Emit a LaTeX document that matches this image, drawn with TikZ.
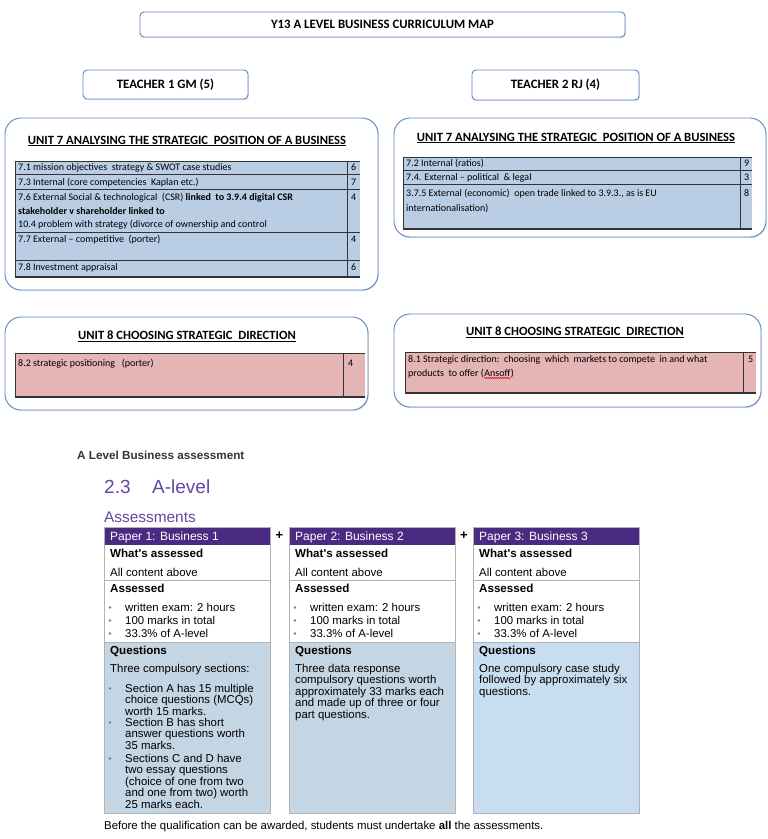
\documentclass[tikz,border=0pt]{standalone}
\usepackage{fontspec}
\setmainfont{Carlito}
\newfontfamily\arialf{Liberation Sans}
\usetikzlibrary{positioning}
\usetikzlibrary{shadows}
\usetikzlibrary{decorations.pathmorphing}
\definecolor{boxblue}{HTML}{5A87C5}
\definecolor{tabblue}{HTML}{B9CDE5}
\definecolor{tabpink}{HTML}{E5B4B4}
\definecolor{aqapurple}{HTML}{4B2A82}
\definecolor{headpurple}{HTML}{6447A0}
\definecolor{qgrey}{HTML}{C4D5E3}
\definecolor{qblue}{HTML}{C9DDF1}
\definecolor{dotblue}{HTML}{3D8DBD}

\begin{document}
\begin{tikzpicture} [x=1pt, y=-1pt,
    mapbox/.style = {draw=boxblue, line width=0.9pt, fill=white, rounded corners=4pt,
        drop shadow={shadow xshift=0.8pt, shadow yshift=-1.2pt, opacity=0.25}},
    unitbox/.style = {mapbox, rounded corners=16pt},
    boxtext/.style = {font=\fontsize{12.8}{14}\selectfont\bfseries},
    unittitle/.style = {font=\fontsize{12.6}{14}\selectfont\bfseries},
    cell/.style = {anchor=base west, inner sep=0pt, font=\fontsize{10}{11}\selectfont},
    cellline/.style = {draw=black!80, line width=0.6pt},
    txt/.style = {anchor=base west, inner sep=0pt, font=\arialf\fontsize{11.4}{12}\selectfont},
    txtb/.style = {txt, font=\arialf\fontsize{11.6}{12}\selectfont\bfseries},
    papertitle/.style = {anchor=base west, inner sep=0pt, text=white, font=\arialf\fontsize{12}{13}\selectfont},
    dot/.style = {circle, fill=dotblue, inner sep=0pt, minimum size=2.6pt},
    paperline/.style = {draw=black!30, line width=0.5pt}]
    \useasboundingbox (0,0) rectangle (768,839);

    %Kopf
    \node[mapbox, minimum width=485, minimum height=25] (title) at (382.5,24.5) {};
    \node[boxtext] (titletext) at (title.center) {Y13 A LEVEL BUSINESS CURRICULUM MAP};
    \node[mapbox, minimum width=165, minimum height=29] (t1) at (165.5,84.5) {};
    \node[boxtext] (t1text) at (t1.center) {TEACHER 1 GM (5)};
    \node[mapbox, minimum width=167, minimum height=30] (t2) at (555.5,85) {};
    \node[boxtext] (t2text) at (t2.center) {TEACHER 2 RJ (4)};

    %Unit 7 links
    \node[unitbox, minimum width=373, minimum height=172] (u7a) at (191.5,204) {};
    \node[unittitle] (u7atitle) at (187,141) {\underline{UNIT 7 ANALYSING THE STRATEGIC\ \ POSITION OF A BUSINESS}};
    \fill[tabblue] (15,161) rectangle (360,277);
    \foreach \y in {161,174,189,232,260}
        \draw[cellline] (15,\y) -- (360,\y);
    \draw[cellline, line width=1.2pt] (15,277) -- (360,277);
    \draw[cellline] (15,161) -- (15,277);
    \draw[cellline] (347,161) -- (347,277);
    \node[cell] (a71) at (18,170) {7.1 mission\ objectives\ \ strategy \& SWOT case studies};
    \node[cell] (a73) at (18,185) {7.3 Internal (core competencies\ \ Kaplan etc.)};
    \node[cell] (a76) at (18,200) {7.6 External\ Social \& technological\ \ (CSR) \textbf{linked\ \ to 3.9.4 digital CSR}};
    \node[cell] (a76b) at (18,214) {\textbf{stakeholder\ v shareholder\ linked to}};
    \node[cell] (a76c) at (18,227.5) {10.4 problem\ with strategy (divorce of ownership and control};
    \node[cell] (a77) at (18,242.5) {7.7 External -- competitive\ \ (porter)};
    \node[cell] (a78) at (18,270) {7.8 Investment appraisal};
    \foreach \y/\n [count=\i] in {170/6,185/7,200/4,242.5/4,270/6}
        \node[cell] (an\i) at (351,\y) {\n};

    %Unit 7 rechts
    \node[unitbox, minimum width=372, minimum height=119] (u7b) at (580,177.5) {};
    \node[unittitle] (u7btitle) at (576,138) {\underline{UNIT 7 ANALYSING THE STRATEGIC\ \ POSITION OF A BUSINESS}};
    \fill[tabblue] (403,157) rectangle (752,229);
    \foreach \y in {157,170,184}
        \draw[cellline] (403,\y) -- (752,\y);
    \draw[cellline, line width=1.2pt] (403,229) -- (752,229);
    \draw[cellline] (403,157) -- (403,229);
    \draw[cellline] (740,157) -- (740,229);
    \node[cell] (b72) at (406,166.5) {7.2 Internal (ratios)};
    \node[cell] (b74) at (406,180.5) {7.4. External -- political\ \ \& legal};
    \node[cell] (b375) at (406,196.5) {3.7.5 External (economic)\ \ open\ trade\ linked to 3.9.3., as is EU};
    \node[cell] (b375b) at (406,211) {internationalisation)};
    \foreach \y/\n [count=\i] in {166.5/9,180.5/3,196.5/8}
        \node[cell] (bn\i) at (744,\y) {\n};

    %Unit 8 links
    \node[unitbox, minimum width=363, minimum height=93] (u8a) at (186.5,363.5) {};
    \node[unittitle] (u8atitle) at (187,336) {\underline{UNIT 8 CHOOSING STRATEGIC\ \ DIRECTION}};
    \fill[tabpink] (15,353) rectangle (365,397);
    \draw[cellline] (15,353) -- (365,353);
    \draw[cellline, line width=1.2pt] (15,397) -- (365,397);
    \draw[cellline] (15,353) -- (15,397);
    \draw[cellline] (343,353) -- (343,397);
    \node[cell] (a82) at (18,366) {8.2 strategic positioning\ \ \ (porter)};
    \node[cell] (an82) at (348,366) {4};

    %Unit 8 rechts
    \node[unitbox, minimum width=367, minimum height=93] (u8b) at (577.5,360.5) {};
    \node[unittitle] (u8btitle) at (575,332) {\underline{UNIT 8 CHOOSING STRATEGIC\ \ DIRECTION}};
    \fill[tabpink] (405,352) rectangle (756,393);
    \draw[cellline] (405,352) -- (756,352);
    \draw[cellline, line width=1.2pt] (405,393) -- (756,393);
    \draw[cellline] (405,352) -- (405,393);
    \draw[cellline] (743,352) -- (743,393);
    \node[cell] (b81) at (408,362) {8.1 Strategic direction:\ \ choosing\ \ which\ \ markets to compete\ \ in and what};
    \node[cell] (b81b) at (408,376) {products\ \ to offer (};
    \node[cell] (ansoff) [right = 0pt of b81b.base east, anchor=base west] {Ansoff};
    \node[cell] (ansoffb) [right = 0pt of ansoff.base east, anchor=base west] {)};
    \draw[red!85!black, line width=0.5pt, decorate, decoration={snake, amplitude=0.5pt, segment length=2pt}]
        ([yshift=-2pt]ansoff.base west) -- ([yshift=-2pt]ansoff.base east);
    \node[cell] (bn81) at (748,362) {5};

    %Assessment
    \node[txtb, text=black!80, font=\arialf\fontsize{11.7}{13}\selectfont\bfseries] (assess) at (77,459.5) {A Level Business assessment};
    \node[anchor=base west, inner sep=0pt, text=headpurple, font=\arialf\fontsize{19}{20}\selectfont] (sec) at (104,493) {2.3};
    \node[anchor=base west, inner sep=0pt, text=headpurple, font=\arialf\fontsize{19}{20}\selectfont] (alevel) at (152,493) {A-level};
    \node[anchor=base west, inner sep=0pt, text=headpurple, font=\arialf\fontsize{15.4}{16}\selectfont] (assm) at (104,522.5) {Assessments};

    \foreach \x/\n/\q in {104/1/qgrey,289/2/qgrey,473/3/qblue} {
        \fill[\q] (\x,642) rectangle (\x+166,813);
        \fill[aqapurple] (\x,527) rectangle (\x+166,545);
        \draw[paperline] (\x,527) rectangle (\x+166,813);
        \draw[paperline] (\x,580) -- (\x+166,580);
        \draw[paperline] (\x,642) -- (\x+166,642);
        \node[papertitle] (p\n) at (\x+6,540.5) {Paper \n: Business \n};
        \node[txtb] (what\n) at (\x+6,557) {What's assessed};
        \node[txt] (all\n) at (\x+6,576) {All content above};
        \node[txtb] (ad\n) at (\x+6,592) {Assessed};
        \foreach \y/\t [count=\j] in {611/written exam: 2 hours,624/100 marks in total,637/33.3\% of A-level} {
            \node[dot] (d\n\j) at (\x+6,\y-3.5) {};
            \node[txt] (b\n\j) at (\x+21,\y) {\t};
        }
        \node[txtb] (q\n) at (\x+6,654) {Questions};
    }
    \node[font=\arialf\fontsize{13}{13}\selectfont\bfseries, inner sep=0pt] (plus1) at (279.5,536) {+};
    \node[font=\arialf\fontsize{13}{13}\selectfont\bfseries, inner sep=0pt] (plus2) at (464,536) {+};

    %Fragen Paper 1
    \node[txt] (q1a) at (110,672) {Three compulsory sections:};
    \foreach \y/\t [count=\j] in {692/Section A has 15 multiple,703.5/choice questions (MCQs),715/worth 15 marks.,
            726/Section B has short,737.5/answer questions worth,749/35 marks.,
            762/Sections C and D have,773.5/two essay questions,785/(choice of one from two,796.5/and one from two) worth,808/25 marks each.}
        \node[txt] (q1l\j) at (125,\y) {\t};
    \foreach \y [count=\j] in {692,726,762}
        \node[dot] (q1d\j) at (110,\y-3.5) {};

    %Fragen Paper 2
    \foreach \y/\t [count=\j] in {672/Three data response,683.5/compulsory questions worth,695/approximately 33 marks each,706.5/and made up of three or four,718/part questions.}
        \node[txt] (q2l\j) at (295,\y) {\t};

    %Fragen Paper 3
    \foreach \y/\t [count=\j] in {672/One compulsory case study,683.5/followed by approximately six,695/questions.}
        \node[txt] (q3l\j) at (479,\y) {\t};

    \node[txt] (before) at (104,829) {Before the qualification can be awarded, students must undertake \textbf{all} the assessments.};

\end{tikzpicture}
\end{document}
